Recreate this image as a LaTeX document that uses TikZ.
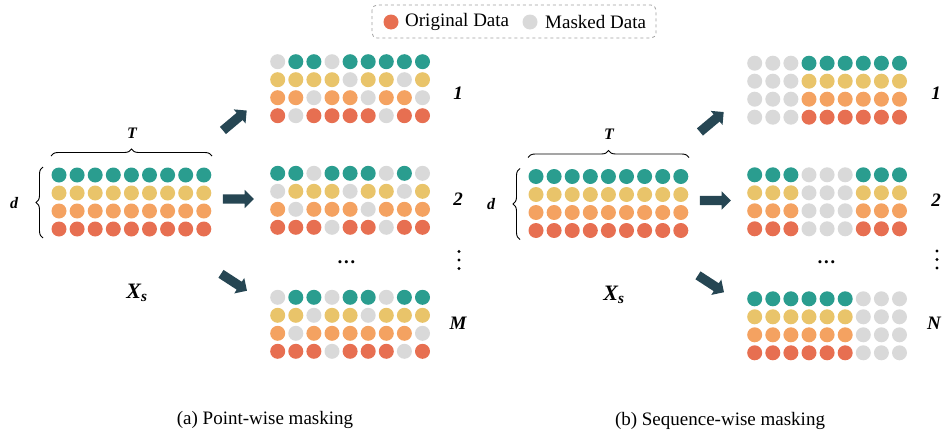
\documentclass[tikz,border=0pt]{standalone}
\usepackage{fontspec}
\setmainfont{Liberation Serif}
\usetikzlibrary{shapes.arrows,decorations.pathreplacing}

\definecolor{dteal}{HTML}{2A9D8F}
\definecolor{dyellow}{HTML}{E9C46A}
\definecolor{dorange}{HTML}{F4A261}
\definecolor{dred}{HTML}{E76F51}
\definecolor{dmask}{HTML}{D9D9D9}
\definecolor{darrow}{HTML}{264653}

% one row of dots: x, y, colour, mask (1 = original, 0 = masked)
\newcommand{\dotrow}[4]{%
  \foreach \m [count=\c from 0] in {#4}{%
    \ifnum\m=1 \fill[#3] (#1+\c*18.1,#2) circle (7.5pt);%
    \else \fill[dmask] (#1+\c*18.1,#2) circle (7.5pt);\fi}}
% four rows: x, y of first dot, then one mask per row
\newcommand{\dotgrid}[6]{%
  \dotrow{#1}{#2}{dteal}{#3}
  \dotrow{#1}{#2+18}{dyellow}{#4}
  \dotrow{#1}{#2+36}{dorange}{#5}
  \dotrow{#1}{#2+54}{dred}{#6}}
% vertical dots: x, y of the middle dot
\newcommand{\vdotmark}[2]{%
  \foreach \k in {-8.5,0,8.5}{\fill (#1,#2+\k) circle (1.7pt);}}

\begin{document}
\begin{tikzpicture}[x=1pt,y=-1pt,
txtnode/.style={inner sep=0pt, font=\fontsize{19}{22}\selectfont},
numnode/.style={inner sep=0pt, font=\fontsize{19}{22}\selectfont\bfseries\itshape},
dimnode/.style={inner sep=0pt, font=\fontsize{16}{19}\selectfont\bfseries\itshape},
legdot/.style={circle, inner sep=0pt, minimum size=15pt},
fat arrow/.style={single arrow, draw=none, fill=darrow, inner xsep=0pt, inner ysep=4.5pt, minimum height=31pt, single arrow head extend=4.5pt},
brace line/.style={decorate, decoration={brace, amplitude=7pt}, line width=0.9pt},
legendbox/.style={draw=gray!75, dashed, line width=0.8pt, rounded corners=5pt}
]
\useasboundingbox (0,0) rectangle (943,434);

%Legend
\draw[legendbox] (372,5) rectangle (656,38);
\node[legdot, fill=dred] (origdot) at (391,22) {};
\node[txtnode, anchor=west] (origtxt) at (405,22) {Original Data};
\node[legdot, fill=dmask] (maskdot) at (530,22) {};
\node[txtnode, anchor=west] (masktxt) at (545,22) {Masked Data};

%(a) Point-wise masking
\coordinate (TL) at (51,156);
\coordinate (TR) at (212,156);
\draw[brace line] (TL) -- (TR);
\node[dimnode] (T) at (132,133) {T};
\coordinate (DB) at (43,238);
\coordinate (DT) at (43,167);
\draw[brace line] (DB) -- (DT);
\node[dimnode] (D) at (14,203) {d};
\dotgrid{59}{175}{1,1,1,1,1,1,1,1,1}{1,1,1,1,1,1,1,1,1}{1,1,1,1,1,1,1,1,1}{1,1,1,1,1,1,1,1,1}
\node[font=\fontsize{22}{26}\selectfont\bfseries\itshape] (Xs) at (137,293) {X\textsubscript{s}};

\node[fat arrow, rotate=40] (up) at (233,122) {};
\node[fat arrow] (mid) at (236,199) {};
\node[fat arrow, rotate=-33] (down) at (232,281) {};

\dotgrid{277.7}{61.7}{0,1,1,0,1,1,1,1,1}{1,1,1,1,0,1,1,0,1}{1,1,0,1,1,0,1,1,0}{1,0,1,1,1,1,0,1,1}
\dotgrid{277.7}{173.3}{1,1,0,1,1,1,0,1,0}{0,1,1,1,0,1,1,0,1}{1,0,1,1,1,0,1,1,1}{1,1,1,0,1,1,0,1,1}
\dotgrid{277.7}{297.3}{0,1,1,0,1,1,0,1,1}{1,1,0,1,1,0,1,1,1}{1,0,1,1,1,1,1,1,0}{1,1,1,0,1,1,1,0,1}
\node[numnode] (a1) at (458,93) {1};
\node[numnode] (a2) at (458,199) {2};
\node[numnode] (hdotsa) at (347,262) {\ldots};
\vdotmark{459}{260}
\node[numnode] (aM) at (458,323) {M};
\node[txtnode] (capa) at (265,420) {(a) Point-wise masking};

%(b) Sequence-wise masking
\begin{scope}[shift={(477,1.5)}]
\coordinate (TLb) at (51,156);
\coordinate (TRb) at (212,156);
\draw[brace line] (TLb) -- (TRb);
\node[dimnode] (Tb) at (132,133) {T};
\coordinate (DBb) at (43,238);
\coordinate (DTb) at (43,167);
\draw[brace line] (DBb) -- (DTb);
\node[dimnode] (Db) at (14,203) {d};
\dotgrid{59}{175}{1,1,1,1,1,1,1,1,1}{1,1,1,1,1,1,1,1,1}{1,1,1,1,1,1,1,1,1}{1,1,1,1,1,1,1,1,1}
\node[font=\fontsize{22}{26}\selectfont\bfseries\itshape] (Xsb) at (137,293) {X\textsubscript{s}};

\node[fat arrow, rotate=40] (upb) at (233,122) {};
\node[fat arrow] (midb) at (236,199) {};
\node[fat arrow, rotate=-33] (downb) at (232,281) {};

\dotgrid{277.7}{61.7}{0,0,0,1,1,1,1,1,1}{0,0,0,1,1,1,1,1,1}{0,0,0,1,1,1,1,1,1}{0,0,0,1,1,1,1,1,1}
\dotgrid{277.7}{173.3}{1,1,1,0,0,0,1,1,1}{1,1,1,0,0,0,1,1,1}{1,1,1,0,0,0,1,1,1}{1,1,1,0,0,0,1,1,1}
\dotgrid{277.7}{297.3}{1,1,1,1,1,1,0,0,0}{1,1,1,1,1,1,0,0,0}{1,1,1,1,1,1,0,0,0}{1,1,1,1,1,1,0,0,0}
\node[numnode] (b1) at (459,92) {1};
\node[numnode] (b2) at (459,199) {2};
\node[numnode] (hdotsb) at (350,261) {\ldots};
\vdotmark{460}{258}
\node[numnode] (bN) at (457,322) {N};
\end{scope}
\node[txtnode] (capb) at (720,421) {(b) Sequence-wise masking};
\end{tikzpicture}
\end{document}
